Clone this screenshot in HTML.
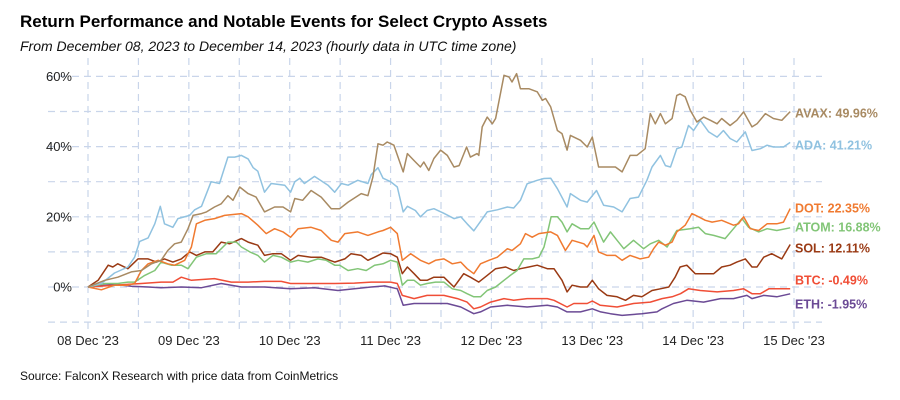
<!DOCTYPE html>
<html><head><meta charset="utf-8"><style>
body{margin:0;background:#fff;font-family:"Liberation Sans",sans-serif;}
#wrap{position:relative;width:900px;height:400px;overflow:hidden;}
.t{position:absolute;white-space:nowrap;}
</style></head><body>
<div id="wrap">
<div class="t" style="left:20px;top:12px;font-size:17px;font-weight:bold;color:#000;">Return Performance and Notable Events for Select Crypto Assets</div>
<div class="t" style="left:20px;top:38px;font-size:14px;font-style:italic;color:#111;">From December 08, 2023 to December 14, 2023 (hourly data in UTC time zone)</div>
<div class="t" style="left:20px;top:369px;font-size:12px;color:#111;">Source: FalconX Research with price data from CoinMetrics</div>
<svg id="chart" width="900" height="400" style="position:absolute;left:0;top:0"></svg>
</div>
<script>
const xLabels=["08 Dec '23","09 Dec '23","10 Dec '23","11 Dec '23","12 Dec '23","13 Dec '23","14 Dec '23","15 Dec '23"];
const yTicks=[0,20,40,60];
const names=["AVAX","ADA","DOT","ATOM","SOL","BTC","ETH"];
const finals=[49.96,41.21,22.35,16.88,12.11,-0.49,-1.95];
const colors=["#a88a62","#90c2e0","#f07a30","#82c577","#9a3a14","#f04e36","#6b4a95"];
const labelY=[113,145,208,227,248,280,304];
const avax=[[0,0],[4,1.9],[7.1,2.8],[10.3,4.3],[12.7,4.7],[15.1,6.6],[17.4,7.6],[19,10.4],[20.6,12.3],[22.2,12.8],[23.8,16.6],[25,20.4],[27,20.9],[28.2,21.4],[30.1,22.8],[31.7,23.7],[33.3,26],[34.5,24.7],[36.1,28.5],[38.1,26.6],[40,25.6],[42,21.4],[44.4,22.8],[46.4,22.8],[48.2,21.4],[49.2,25.2],[51.1,24.7],[53.1,27.5],[55.5,25.6],[57.9,22.3],[59.9,22.3],[61.9,24.2],[65,26.6],[66.6,26],[67.8,31.3],[69,40.8],[70.2,40.4],[71.2,41.3],[72.8,40.4],[75,32.8],[76,38],[77.6,36],[79.1,34.2],[79.9,35.6],[81.1,33.2],[82.3,36.6],[83.9,39],[85.5,37.5],[87.1,34.2],[88.3,34.6],[90.1,39.9],[91,37],[92.6,38],[93,37.5],[93.8,45.6],[95,48.4],[96.2,46.5],[97,48],[99,60.3],[100.2,59.8],[100.9,58.4],[102,60.8],[102.9,56.5],[104.9,56.5],[106.9,55.6],[108.1,53.2],[108.9,53.7],[110.1,51.3],[111.7,44.6],[112.8,43.7],[114,39],[114.8,43.2],[117.2,41.8],[118.8,39.9],[120,42.7],[121.5,34.2],[123.5,34.2],[125.5,34.2],[127.1,32.8],[129,37.5],[130.6,37.5],[132.6,39.4],[133.8,49.4],[135,46.5],[136.2,49.4],[137.4,46.5],[139,48],[140.1,54.6],[140.9,55],[142.1,54.2],[143.3,50.4],[144.9,47],[146.5,48.4],[148.1,47.5],[149.7,46.5],[150.8,48],[152.8,46],[154.4,47.5],[156,49.9],[158,45.6],[159.2,46.5],[161.2,49.4],[163.1,48],[165.1,47.5],[167.1,49.96]];
const ada=[[0,0],[3.2,1],[6.3,4],[9.5,5.7],[11.1,8.5],[12.3,13],[14.3,14],[15.9,18],[17.2,23],[18.2,18],[20.2,17],[21.4,19.5],[24.2,20.4],[25.4,22],[27,23],[29.3,30],[31.3,29.5],[33.3,37],[34.9,37],[36.5,37.5],[38.1,36.5],[39.3,34],[40.4,33],[42,27],[43.6,29.5],[46.8,29],[48.2,27],[49.2,30],[50.4,31],[51.5,29.5],[53.9,31.5],[57.1,29],[58.7,27],[60.3,29.5],[61.9,29],[64.2,30.4],[66.6,29.5],[67.4,32],[69,34],[70.2,31],[72,30],[73.6,28.5],[75,21.4],[76,23],[77.9,21.8],[79.1,20],[80.7,21.8],[82.3,22.3],[84.7,21],[87.1,19.5],[88.7,20],[90.2,18],[91.8,16],[93.4,18.7],[95,21.4],[97.4,22],[99.8,22.8],[101.3,22.5],[102.9,24.7],[104.5,29.4],[106.9,30.4],[108.5,30.9],[110.1,31],[111.7,28],[114,22.8],[114.8,26.6],[117.2,24.7],[118.8,24.2],[121,27.5],[122.7,23.3],[125.1,22.8],[127.1,21.4],[129,25.2],[131,25.6],[133,30.4],[134.2,34.2],[136.2,37.5],[137.4,34.6],[138.6,34.2],[140.1,39.4],[141.3,39.9],[142.9,46],[144.1,44.6],[145.7,47.5],[147.7,44.2],[149.7,42.7],[151.2,44.6],[152.8,42.3],[154.4,41.3],[156.4,44.2],[158,38.9],[160,39.4],[161.6,40.4],[163.1,39.9],[165.5,39.9],[167.1,41.21]];
const dot=[[0,0],[3.2,-0.8],[6.3,0.5],[9.5,0.5],[11.1,1],[12.7,4.7],[14.3,6.6],[16.7,7.6],[19,6.6],[20.6,6.2],[23,7.6],[24.6,11.4],[25.8,18],[27.8,19],[30.1,19.5],[32.5,20.4],[36.5,20.9],[38.1,20],[40.4,17.6],[42.4,15.2],[44.4,16.6],[46.4,15.7],[48.2,14.2],[50,16.6],[53.1,17],[55.5,16.1],[57.9,13.3],[59.5,12.8],[61.1,15.2],[64.2,15.7],[66.6,14.7],[69,15.7],[70.2,16.1],[72,17],[73.6,15.2],[74.8,7.6],[76.8,9.5],[79.1,7.6],[81.1,6.6],[82.7,7.6],[84.7,8],[86.7,6.6],[88.7,7.1],[90.2,5.2],[91.8,3.8],[93.4,6.6],[95.4,7.6],[97.4,8.5],[99.8,10.9],[100.9,10.4],[102.9,12.3],[104.1,15.2],[105.7,14.2],[107.3,15.2],[110.1,15.7],[111.7,14.7],[113.6,10.4],[115.2,13.3],[118,12.3],[118.8,11.4],[120.4,14.7],[121.5,10],[123.5,9],[125.5,9],[127.1,7.6],[129,9],[131.4,8],[133.4,8.5],[134.6,10.9],[135.8,12.8],[137.4,11.9],[139,12.8],[140.1,15.7],[142.1,17.6],[143.7,20.9],[145.3,20],[146.9,19],[148.5,18.5],[150.8,19],[153.6,17.6],[154.8,18],[156,20],[157.6,16.6],[159.6,16.1],[161.6,18],[163.9,18],[165.5,18.5],[167.1,22.35]];
const atom=[[0,0],[4,1],[7.1,1],[9.5,1.4],[11.1,1.4],[13.5,3.3],[15.9,4.7],[17.4,7.1],[19.8,6.2],[22.2,6.2],[23.8,5.2],[25.8,8.5],[28.2,9.5],[30.5,9.5],[33.3,12.8],[35.3,12.8],[36.5,11.4],[38.5,10],[40.4,9],[42,7.1],[44,9],[46,8.5],[48.2,7.1],[50,7.6],[52.3,7.1],[54.7,8],[56.7,7.6],[58.7,6.2],[59.9,6.2],[61.9,4.7],[64.2,5.2],[66.2,4.7],[68.2,6.2],[70.2,6.6],[72,7.6],[73.6,7.1],[74.8,0.5],[76,1.9],[77.6,1.9],[79.1,0.5],[80.7,1],[82.7,1.4],[84.7,1.4],[86.7,-0.5],[88.7,-1],[90.2,-1.9],[91.8,-2.8],[93.4,-2.8],[95,-1],[97,0],[99,1.9],[100.5,3.3],[102.1,4.7],[103.7,8],[105.7,8],[107.3,8.5],[108.5,11.4],[109.3,15.2],[110.2,20],[111.7,20],[112.8,18.5],[114,15.7],[115.2,18],[117.2,16.6],[119.2,16.6],[120.4,18.5],[121,17],[122.7,12.8],[124.3,15.7],[125.9,13.3],[127.5,10.9],[129.8,13.3],[132.2,10.9],[133.8,12.3],[135.8,13.3],[137.8,11.4],[140.1,16.1],[143.3,16.6],[145.3,17],[146.9,15.2],[148.9,14.7],[151.6,13.8],[153.6,16.6],[155.6,19.5],[157.2,17],[159.6,15.7],[161.6,16.6],[163.9,16.1],[167.1,16.88]];
const sol=[[0,0],[2.4,1.9],[4.8,6.2],[5.9,5.7],[7.1,6.6],[9.5,5.2],[11.9,8],[14.3,8],[16.3,7.1],[18.2,8],[20.2,7.1],[22.2,8],[24.2,10],[25.8,9],[27.8,10],[29.7,10],[31.7,12.8],[33.7,12.3],[36.5,13.8],[38.1,12.8],[40.4,11.9],[42,9],[44,9.5],[46,9.5],[48.2,7.6],[50,9],[53.1,8.5],[55.5,8.5],[58.7,7.1],[61.1,8],[62.6,9.5],[65,9],[66.6,7.6],[68.2,8.5],[70.2,9.7],[72,9.5],[73.6,8.5],[74.8,3.8],[76,5.7],[77.6,3.8],[79.1,1.9],[80.7,1.9],[82.3,2.8],[84.7,2.8],[87.1,0],[89.4,3.8],[91,2.8],[93,1.4],[95,3.3],[97,5.2],[99.4,5.7],[101.3,4.7],[102.9,5.2],[104.9,5.7],[106.9,6.2],[109.3,5.2],[110.9,5.2],[112.8,1.9],[114,-1.4],[115.2,0.5],[117.2,0],[118.8,0],[120,1.9],[121.5,-0.5],[123.5,-2.4],[125.9,-2.8],[127.9,-3.8],[129.8,-2.4],[131.8,-2.8],[134.2,-1],[136.2,-0.5],[138.2,0],[139.7,2.8],[140.9,5.7],[142.5,6.2],[144.5,3.8],[146.9,3.8],[148.9,3.8],[150.8,5.7],[152.8,6.2],[154.4,7.1],[156.4,8],[158,5.7],[159.2,5.7],[160.8,8.5],[162.7,9.5],[165.1,8],[167.1,12.11]];
const btc=[[0,0],[6.3,0.5],[12.7,1],[17.4,1.4],[20.2,1.4],[22.2,2.8],[24.6,1.9],[30.1,2.4],[34.1,1.4],[38.1,1.4],[42,1.6],[46,1.6],[48.2,1],[53.9,1],[58.7,1],[63.4,1.1],[67.4,1.4],[72,1.4],[73.6,1],[74.8,-2.4],[77.6,-3.3],[80.7,-2.4],[84.7,-2.4],[87.9,-3.3],[90.2,-4.3],[91.8,-6.2],[93.4,-5.7],[95.8,-4.3],[99,-3.3],[101.3,-3.8],[104.5,-3.3],[109.3,-3.3],[110.9,-3.8],[114,-5.7],[115.6,-4.7],[118.8,-4.7],[120,-4],[121.9,-5.2],[125.9,-5.7],[129.8,-4.7],[133.8,-4.3],[136.6,-3.3],[139,-2.8],[141,-1.9],[142.9,-0.5],[145.7,-1],[149.7,-1.4],[153.6,-1],[156,-0.5],[158,-1.9],[160,-1.9],[162,-0.5],[167.1,-0.49]];
const eth=[[0,0],[6.3,0.8],[10.3,0.2],[14.3,0],[17.4,-0.2],[22.2,0],[27,-0.2],[31.7,1],[36.5,0],[42,0],[48.2,-0.5],[53.9,-0.2],[59.5,-1],[63.4,-0.5],[67.4,0],[70.6,0.3],[73.6,-0.5],[75,-5.2],[77.6,-4.7],[81.5,-4.7],[85.5,-4.7],[88.7,-5.7],[91.8,-7.6],[93.4,-7.1],[95.8,-5.7],[99.8,-5.2],[104.5,-5.7],[109.3,-5.2],[111.7,-5.7],[114,-7.1],[117.2,-7.1],[120,-6.2],[122,-7.1],[124.3,-7.6],[127.1,-8.1],[131.8,-7.6],[135.4,-7.1],[136.6,-6.2],[139.3,-4.7],[142.5,-3.8],[146.5,-4.3],[150.5,-3.3],[153.6,-3.3],[156.8,-2.4],[158,-3.3],[160.8,-2.4],[163.9,-2.8],[167.1,-1.95]];
const series=[avax,ada,dot,atom,sol,btc,eth];

const NS="http://www.w3.org/2000/svg";
const svg=document.getElementById('chart');
const x=h=>88+h*(706/168);
const y=v=>287-v*3.51;
function mk(tag,attrs){const e=document.createElementNS(NS,tag);for(const k in attrs)e.setAttribute(k,attrs[k]);svg.appendChild(e);return e;}
for(let v=-10;v<=60;v+=10){
  const g=mk('line',{x1:48,x2:822,y1:y(v),y2:y(v),stroke:'#c9d5ea','stroke-width':1.2,'stroke-dasharray':'7,5'});
  
  
}
for(let d=0;d<=14;d++){
  const g=mk('line',{x1:x(d*12),x2:x(d*12),y1:58,y2:333,stroke:'#c9d5ea','stroke-width':1.2,'stroke-dasharray':'7,5'});
  
  
}
yTicks.forEach(v=>{
  const t=mk('text',{x:72,y:y(v)+4.5,'text-anchor':'end','font-size':13,fill:'#222','font-family':'Liberation Sans, sans-serif'});
  t.textContent=v+'%';
  
  
});
xLabels.forEach((s,i)=>{
  const t=mk('text',{x:x(i*24),y:345,'text-anchor':'middle','font-size':13,fill:'#222','font-family':'Liberation Sans, sans-serif'});
  t.textContent=s;
  
  
});
for(let i=series.length-1;i>=0;i--){
  const p=mk('polyline',{points:series[i].map(d=>x(d[0]).toFixed(1)+','+y(d[1]).toFixed(1)).join(' '),fill:'none',stroke:colors[i],'stroke-width':1.5,'stroke-linejoin':'round'});
  
  
}
names.forEach((n,i)=>{
  const t=mk('text',{x:795,y:labelY[i]+4.5,'font-size':12.5,'font-weight':'bold',fill:colors[i],'font-family':'Liberation Sans, sans-serif'});
  t.textContent=n+': '+finals[i].toFixed(2)+'%';
  
  
});
</script>
</body></html>
